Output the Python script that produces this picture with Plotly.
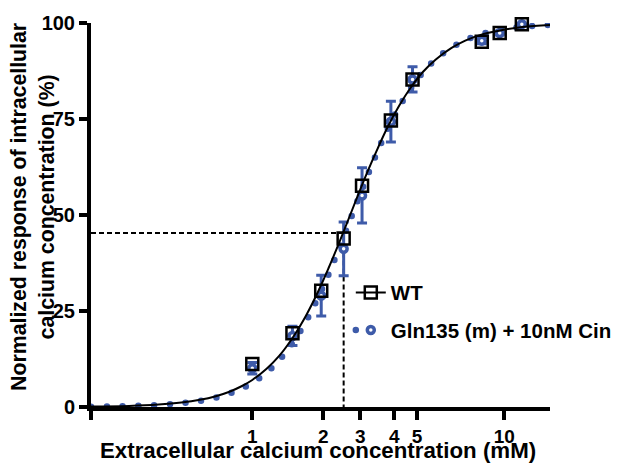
import math
import plotly.graph_objects as go

# ---------------- data ----------------
conc_wt = [1.0, 1.48, 1.96, 2.44, 2.92, 3.87, 4.78, 9.4, 11.2, 13.9]
resp_wt = [11.2, 19.2, 30.3, 43.9, 57.6, 74.6, 85.3, 95.1, 97.4, 99.7]

conc_gln = [1.0, 1.48, 1.96, 2.44, 2.92, 3.87, 4.78, 9.4, 11.2, 13.9]
resp_gln = [10.1, 18.5, 29.0, 41.2, 55.1, 74.3, 85.3, 95.4, 97.4, 99.7]
err_gln = [1.5, 2.5, 5.3, 7.0, 7.2, 5.3, 3.3, 0.8, 0.5, 0.3]

# fitted curves
fit_x = [0.207, 0.3, 0.4, 0.5, 0.6, 0.7, 0.8, 0.9, 1.0, 1.15, 1.3, 1.5, 1.7, 1.9,
         2.1, 2.35, 2.6, 2.85, 3.1, 3.4, 3.75, 4.2, 4.7, 5.3, 6.0, 7.0, 8.0, 9.5,
         11.5, 14.0, 18.3]
fit_wt = [0.11, 0.29, 0.64, 1.15, 1.87, 2.81, 3.98, 5.40, 7.04, 9.96, 13.3, 18.5,
          24.1, 30.0, 36.0, 43.2, 50.0, 56.2, 61.7, 67.3, 72.9, 78.5, 83.2, 87.3,
          90.5, 93.5, 95.4, 97.1, 98.2, 98.95, 99.49]
fit_gln = [0.09, 0.24, 0.53, 0.98, 1.61, 2.44, 3.50, 4.79, 6.30, 9.01, 12.2, 17.1,
           22.6, 28.5, 34.4, 41.8, 48.7, 55.0, 60.7, 66.6, 72.4, 78.2, 83.0, 87.2,
           90.6, 93.6, 95.5, 97.2, 98.3, 99.0, 99.53]

# dashed guide (x at the 2.5 mM point, y level)
guide_x = [0.207, 2.44, 2.44]
guide_y = [45.3, 45.3, 0]

x_min, x_max = 0.207, 18.3
x_tickvals = [0.2075, 1, 2, 2.87, 4, 5, 11.7]
x_ticktext = ["", "1", "2", "3", "4", "5", "10"]
y_tickvals = [0, 25, 50, 75, 100]
y_ticktext = ["0", "25", "50", "75", "100"]

names = ["WT", "Gln135 (m) + 10nM Cin"]
x_title = "Extracellular calcium concentration (mM)"
y_title = "Normalized response of intracellular<br>calcium concentration (%)"

BLUE = "rgb(62, 91, 169)"
BLACK = "black"
FONT = "Liberation Sans"

fig = go.Figure()

# blue dotted fit
fig.add_trace(go.Scatter(x=fit_x, y=fit_gln, mode="lines", showlegend=False,
                         line=dict(color=BLUE, width=6.5, dash="0px,15.75px", shape="spline"),
                         hoverinfo="skip"))
# dashed guide
fig.add_trace(go.Scatter(x=guide_x, y=guide_y, mode="lines", showlegend=False,
                         line=dict(color=BLACK, width=2, dash="5px,3px"), hoverinfo="skip"))
# blue data
fig.add_trace(go.Scatter(x=conc_gln, y=resp_gln, mode="markers", showlegend=False,
                         marker=dict(symbol="circle", size=7, color="white",
                                     line=dict(color=BLUE, width=3.5)),
                         error_y=dict(type="data", array=err_gln, visible=True,
                                      color=BLUE, thickness=3, width=5),
                         cliponaxis=False))
# black fit
fig.add_trace(go.Scatter(x=fit_x, y=fit_wt, mode="lines", showlegend=False,
                         line=dict(color=BLACK, width=2, shape="spline"), hoverinfo="skip"))
# black squares
fig.add_trace(go.Scatter(x=conc_wt, y=resp_wt, mode="markers", showlegend=False,
                         marker=dict(symbol="square-open", size=12, color=BLACK,
                                     line=dict(color=BLACK, width=2.5)),
                         cliponaxis=False))

# legend entries
fig.add_trace(go.Scatter(x=[None], y=[None], mode="lines+markers", name=names[0],
                         legendgroup="a",
                         line=dict(color=BLACK, width=2),
                         marker=dict(symbol="square-open", size=12, color=BLACK,
                                     line=dict(color=BLACK, width=2.5))))
fig.add_trace(go.Scatter(x=[None], y=[None], mode="lines+markers", name=names[1],
                         legendgroup="b",
                         line=dict(color=BLUE, width=6.5, dash="0px,40px"),
                         marker=dict(symbol="circle", size=7, color="white",
                                     line=dict(color=BLUE, width=3.5))))

fig.update_layout(
    width=618, height=464,
    margin=dict(l=91, r=68, t=23, b=57, autoexpand=False),
    paper_bgcolor="white", plot_bgcolor="white",
    font=dict(family=FONT, size=20, color=BLACK, weight="bold"),
    showlegend=True,
    legend=dict(x=0.566, y=0.35, xanchor="left", yanchor="top",
                font=dict(size=20.5, family=FONT, weight="bold"),
                tracegroupgap=8, bgcolor="rgba(0,0,0,0)", borderwidth=0),
    xaxis=dict(type="log", range=[math.log10(x_min), math.log10(x_max)],
               tickmode="array", tickvals=x_tickvals, ticktext=x_ticktext,
               ticks="outside", ticklen=9, tickwidth=3.5, tickcolor=BLACK,
               showline=True, linewidth=4, linecolor=BLACK,
               showgrid=False, zeroline=False,
               tickfont=dict(size=19, family=FONT, weight="bold")),
    yaxis=dict(range=[0, 100], tickmode="array", tickvals=y_tickvals, ticktext=y_ticktext,
               ticks="outside", ticklen=8, tickwidth=3.5, tickcolor=BLACK,
               showline=True, linewidth=4, linecolor=BLACK,
               showgrid=False, zeroline=False,
               tickfont=dict(size=20, family=FONT, weight="bold")),
    annotations=[
        dict(text=x_title, xref="paper", yref="paper", x=0.495, y=-0.1484,
             xanchor="center", yanchor="bottom", showarrow=False, borderpad=0,
             font=dict(size=22.3, family=FONT, weight="bold", color=BLACK)),
        dict(text=y_title, xref="paper", yref="paper", x=-0.1264, y=0.521,
             xanchor="center", yanchor="middle", textangle=-90, showarrow=False,
             font=dict(size=21.3, family=FONT, weight="bold", color=BLACK)),
    ],
)

post = """
document.body.style.margin = '0';
document.documentElement.style.overflow = 'hidden';
var gd = document.getElementById('{plot_id}');
function roundDots(){
  gd.querySelectorAll('path').forEach(function(p){
    var d = (p.style.strokeDasharray || p.getAttribute('stroke-dasharray') || '').replace(/\\s/g,'');
    if (d.indexOf('0px,') === 0) { p.style.strokeLinecap = 'round'; }
  });
}
roundDots();
if (gd.on) { gd.on('plotly_afterplot', roundDots); }
"""

fig.write_html("out.html", post_script=post, config={"displayModeBar": False})
